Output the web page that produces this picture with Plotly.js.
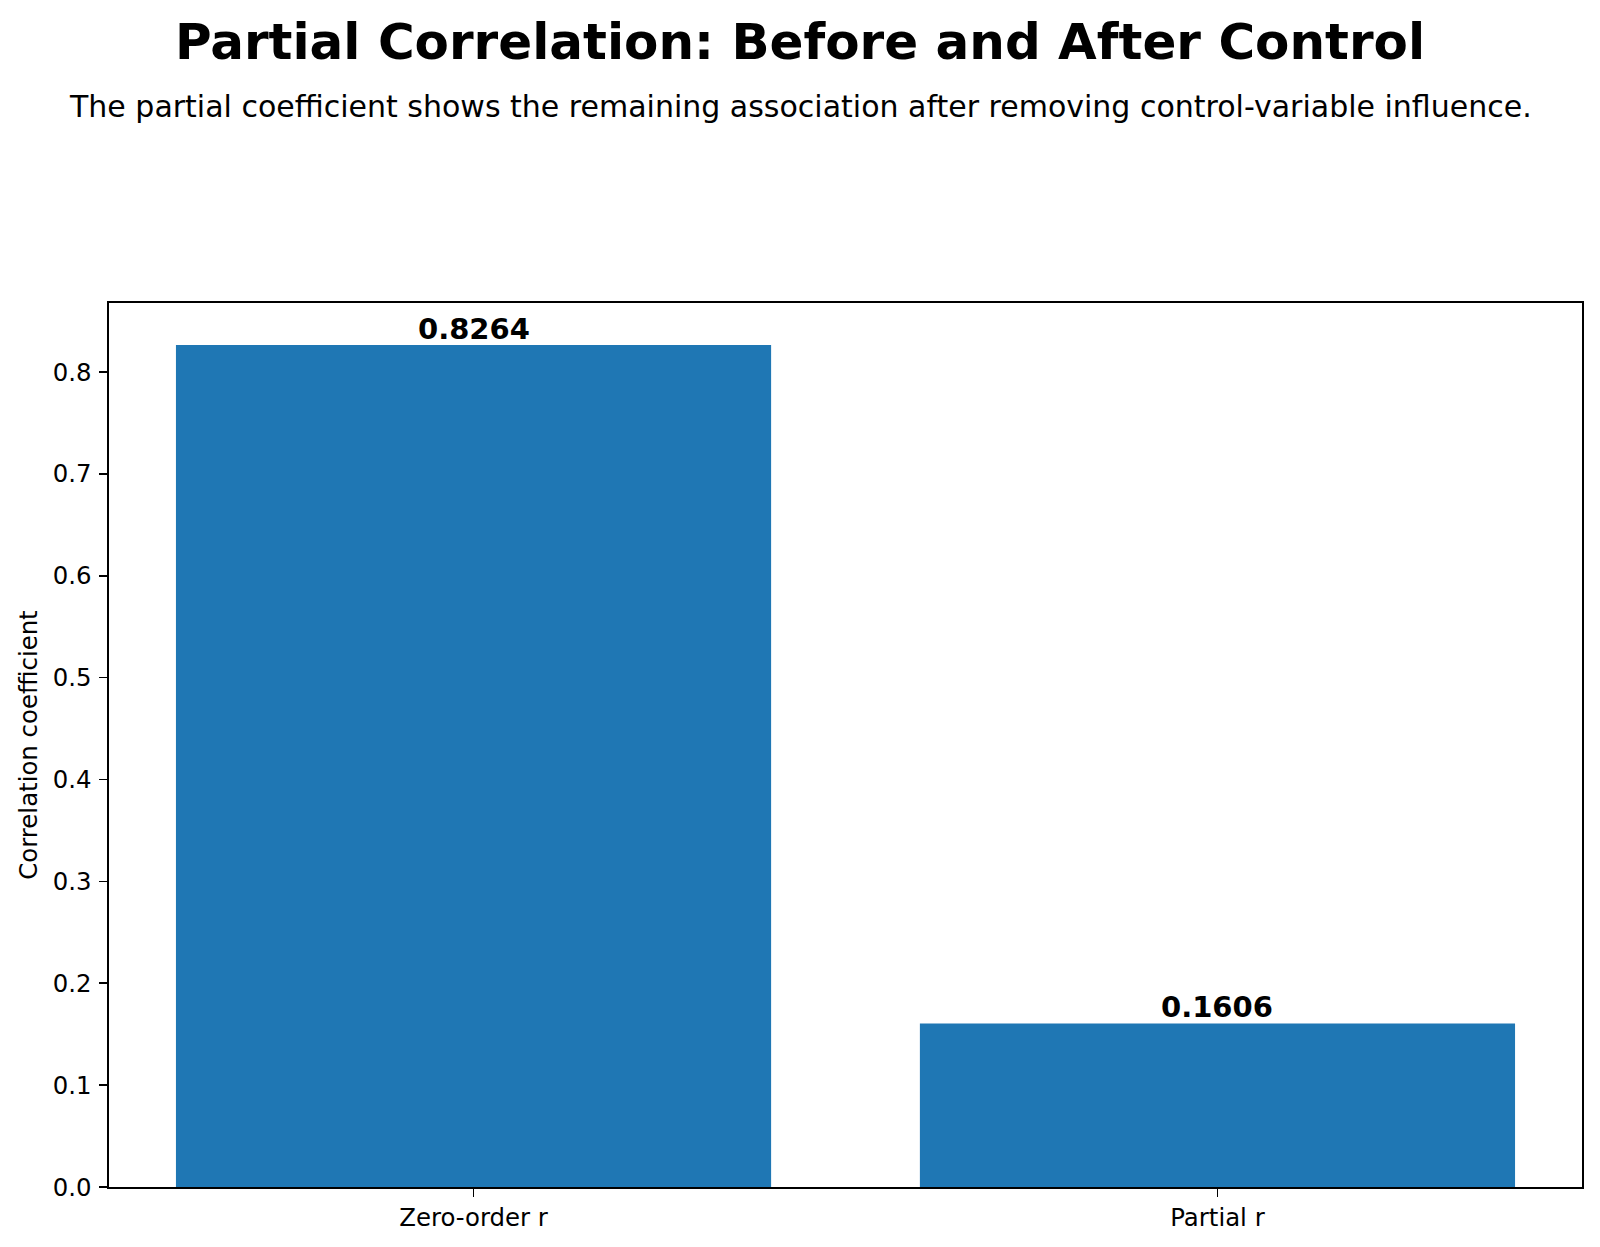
<!DOCTYPE html>
<html>
<head>
<meta charset="utf-8">
<script src="https://cdn.plot.ly/plotly-3.0.1.min.js"></script>
<style>
  html, body { margin: 0; padding: 0; background: #ffffff; }
  #chart { width: 1600px; height: 1247px; }
</style>
</head>
<body>
<div id="chart"></div>
<script>
// Correlation coefficients before and after partialling out the control variable
const categories = ["Zero-order r", "Partial r"];
const coefficients = [0.8264, 0.1606];
const yTickValues = [0.0, 0.1, 0.2, 0.3, 0.4, 0.5, 0.6, 0.7, 0.8];

const FONT = "DejaVu Sans, Verdana, sans-serif";
const barColor = "#1f77b4";

// Plot area in pixels
const W = 1600, H = 1247;
const plotLeft = 109, plotRight = 1582;
const plotTop = 303, plotBottom = 1187.5;
const plotW = plotRight - plotLeft;
const plotH = plotBottom - plotTop;
// convert page pixels to paper fractions of the plot area
const paperX = (px) => (px - plotLeft) / plotW;
const paperY = (py) => (plotBottom - py) / plotH;

const bars = {
  type: "bar",
  x: categories,
  y: coefficients,
  width: 0.8,
  marker: { color: barColor, line: { width: 0 } },
  hoverinfo: "skip"
};

// Value labels sitting on top of each bar
const valueLabels = categories.map((c, i) => ({
  x: c,
  y: coefficients[i],
  xref: "x",
  yref: "y",
  text: "<b>" + coefficients[i].toFixed(4) + "</b>",
  showarrow: false,
  xanchor: "center",
  yanchor: "bottom",
  yshift: -3,
  font: { family: FONT, size: 29, color: "#000000" }
}));

const yMax = Math.max(...coefficients) * 1.05;

const layout = {
  width: W,
  height: H,
  paper_bgcolor: "#ffffff",
  plot_bgcolor: "#ffffff",
  showlegend: false,
  margin: { l: plotLeft, r: W - plotRight, t: plotTop, b: H - plotBottom, pad: 0 },
  font: { family: FONT, size: 24.4, color: "#000000" },
  title: {
    text: "<b>Partial Correlation: Before and After Control</b>",
    font: { family: FONT, size: 50, color: "#000000" },
    x: 0.5,
    xref: "container",
    xanchor: "center",
    y: 1 - 41 / H,
    yref: "container",
    yanchor: "middle"
  },
  annotations: [
    {
      text: "The partial coefficient shows the remaining association after removing control-variable influence.",
      xref: "paper",
      yref: "paper",
      x: paperX(W / 2),
      y: paperY(106),
      xanchor: "center",
      yanchor: "middle",
      showarrow: false,
      font: { family: FONT, size: 30, color: "#000000" }
    }
  ].concat(valueLabels),
  xaxis: {
    type: "category",
    range: [-0.49, 1.49],
    showgrid: false,
    zeroline: false,
    showline: true,
    linecolor: "#000000",
    linewidth: 1.8,
    mirror: true,
    ticks: "outside",
    ticklen: 7.8,
    tickwidth: 1.6,
    tickcolor: "#000000",
    ticklabelstandoff: 0,
    tickfont: { family: FONT, size: 24.4, color: "#000000" },
    fixedrange: true
  },
  yaxis: {
    range: [0, yMax],
    tickvals: yTickValues,
    tickformat: ".1f",
    showgrid: false,
    zeroline: false,
    showline: true,
    linecolor: "#000000",
    linewidth: 1.8,
    mirror: true,
    ticks: "outside",
    ticklen: 7.8,
    tickwidth: 1.6,
    tickcolor: "#000000",
    ticklabelstandoff: 3,
    tickfont: { family: FONT, size: 24.4, color: "#000000" },
    title: {
      text: "Correlation coefficient",
      font: { family: FONT, size: 24.4, color: "#000000" },
      standoff: 8
    },
    fixedrange: true
  }
};

Plotly.newPlot("chart", [bars], layout, { displayModeBar: false, staticPlot: true });
</script>
</body>
</html>
